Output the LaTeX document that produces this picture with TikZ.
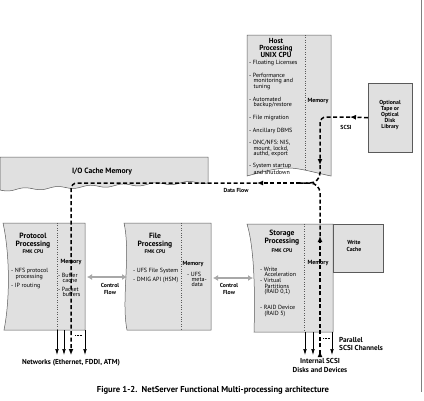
\documentclass[tikz,border=0pt]{standalone}
\usepackage{fontspec}
\setmainfont{PT Sans}
\usetikzlibrary{arrows.meta}

\definecolor{boxfill}{HTML}{E0E0E0}
\definecolor{boxline}{HTML}{5A5A5A}
\definecolor{ctrlgray}{HTML}{A8A8A8}
\newcommand{\ind}{\hspace*{4.4pt}}

\begin{document}
\begin{tikzpicture}[x=1pt,y=-1pt,
  box/.style={draw=boxline,fill=boxfill,line width=0.5pt},
  divider/.style={draw=boxline,dotted,line width=0.4pt},
  flow/.style={line width=1.5pt,dash pattern=on 4pt off 2.5pt},
  chan/.style={line width=0.6pt,-{Latex[length=6pt,width=3.6pt]}},
  ctrl/.style={draw=ctrlgray,line width=2pt,{Latex[length=5pt,width=6pt]}-{Latex[length=5pt,width=6pt]}},
  head/.style={font=\bfseries\fontsize{7.3}{7.3}\selectfont,align=center,anchor=north,inner sep=0},
  cpu/.style={font=\bfseries\fontsize{5.3}{5}\selectfont,anchor=base,inner sep=0},
  mem/.style={font=\bfseries\fontsize{6}{6}\selectfont,anchor=base,inner sep=0},
  items/.style={font=\fontsize{6}{5.2}\selectfont,align=left,anchor=north west,inner sep=0},
  lbl/.style={font=\bfseries\fontsize{5.8}{6.2}\selectfont,align=center,inner sep=0},
  big/.style={font=\bfseries\fontsize{7.2}{8.5}\selectfont,inner sep=0}
]
  \useasboundingbox (0,0) rectangle (424,400);

  % page edge
  \draw[gray,line width=0.5pt] (421,0) -- (421,392);

  % --- Host processing (UNIX CPU)
  \path[box] (247,35) -- (331,35) -- (331,176)
    .. controls (312,172) and (300,168) .. (288,168)
    .. controls (276,168) and (262,172) .. (247,176) -- cycle;
  \draw[divider] (305,35) -- (305,171);
  \node[head] (hosthead) at (276,38) {Host\\Processing\\UNIX CPU};
  \node[items] (hostitems) at (249,60) {%
    - Floating Licenses\\[6.2pt]
    - Performance\\\ind monitoring and\\\ind tuning\\[6.2pt]
    - Automated\\\ind backup/restore\\[6.2pt]
    - File migration\\[6.2pt]
    - Ancillary DBMS\\[6.2pt]
    - ONC/NFS: NIS,\\\ind mount, lockd,\\\ind authd, export\\[6.2pt]
    - System startup\\\ind and shutdown};
  \node[mem] (hostmem) at (318,102) {Memory};

  % --- optional library and write cache
  \node[box,anchor=north west,minimum width=44pt,minimum height=69pt,inner sep=0] (optlib) at (368,83) {};
  \node[lbl] (optlbl) at (390,115) {Optional\\Tape or\\Optical\\Disk\\Library};
  \node[lbl] (scsi) at (346,127) {SCSI};

  % --- I/O cache memory (torn bottom edge)
  \path[box] (0,157) -- (208,157) -- (208,182)
    -- plot[domain=208:0,samples=70,smooth] (\x,{182+8*(1-\x/208)+1.3*sin(\x*11)}) -- cycle;
  \node[big,font=\bfseries\fontsize{7.6}{8}\selectfont] (iocache) at (102,172) {I/O Cache Memory};

  % --- Protocol processing
  \path[box] (3,223) -- (85,223) -- (85,330) -- (4,330)
    .. controls (10,300) and (10,255) .. (3,223) -- cycle;
  \draw[divider] (57,223) -- (57,330);
  \node[head,font=\bfseries\fontsize{7.6}{8}\selectfont] (prothead) at (33,232.5) {Protocol\\Processing};
  \node[cpu] (protcpu) at (33,253) {FMK CPU};
  \node[items] (protitems) at (11,268) {- NFS protocol\\\ind processing\\[2pt]- IP routing};
  \node[mem] (protmem) at (71,263) {Memory};
  \node[items] (protmemitems) at (58,273) {- Buffer\\\ind cache\\[3.5pt]- Packet\\\ind buffers};

  % --- File processing
  \path[box] (124,223) -- (211,223) -- (211,330) -- (127,330)
    .. controls (121,300) and (131,255) .. (124,223) -- cycle;
  \draw[divider] (181,223) -- (181,330);
  \node[head,font=\bfseries\fontsize{7.6}{8}\selectfont] (filehead) at (155,232.5) {File\\Processing};
  \node[cpu] (filecpu) at (155,253) {FMK CPU};
  \node[items] (fileitems) at (133,268) {- UFS File System\\[2.6pt]- DMIG API (HSM)};
  \node[mem] (filemem) at (193,265) {Memory};
  \node[items] (filememitems) at (187,272) {- UFS\\\ind meta-\\\ind data};

  % --- Storage processing + write cache
  \path[box] (247,224) -- (333,224) -- (333,332) -- (254,332)
    .. controls (255,300) and (255,250) .. (247,224) -- cycle;
  \node[box,anchor=north west,minimum width=50pt,minimum height=48pt,inner sep=0] (wcache) at (333,224) {};
  \node[lbl] (wcachelbl) at (354,246) {Write\\Cache};
  \draw[divider] (304,224) -- (304,332);
  \node[head,font=\bfseries\fontsize{7.6}{8}\selectfont] (storhead) at (282,229.5) {Storage\\Processing};
  \node[cpu] (storcpu) at (282,252) {FMK CPU};
  \node[items] (storitems) at (260,267) {%
    - Write\\\ind Acceleration\\[1pt]
    - Virtual\\\ind Partitions\\\ind (RAID~0,1)\\[10pt]
    - RAID Device\\\ind (RAID 5)};

  % --- control flow between processors
  \coordinate (protE) at (87,277);
  \coordinate (fileW) at (127,277);
  \coordinate (fileE) at (213,278);
  \coordinate (storW) at (253,278);
  \draw[ctrl] (protE) -- (fileW);
  \draw[ctrl] (fileE) -- (storW);
  \node[lbl] (ctrl1) at (110,289) {Control\\Flow};
  \node[lbl] (ctrl2) at (229,289) {Control\\Flow};

  % --- data flow (dashed)
  \coordinate (jn) at (300,183);
  \coordinate (scsitip) at (350,117);
  \coordinate (hosttip) at (320,165);
  \coordinate (leftip) at (257,183);
  \coordinate (stortip) at (320,236);
  \draw[flow,-{Latex[length=6pt,width=5pt]}] (optlib.west) -- (scsitip);
  \draw[flow,rounded corners=6pt,-{Latex[length=6pt,width=5pt]}] (scsitip) -- (320,117) -- (hosttip);
  \draw[flow,rounded corners=10pt] (hosttip) -- (320,183) -- (jn);
  \draw[flow,-{Latex[length=6pt,width=5pt]}] (jn) -- (leftip);
  \draw[flow,rounded corners=6pt,-{Latex[length=6pt,width=5pt]}] (leftip) -- (71,183) -- (71,355);
  \draw[flow,{Latex[length=6pt,width=5pt,reversed]}-{Latex[length=6pt,width=5pt]}] (320,357) -- (stortip);
  \draw[flow,rounded corners=10pt] (stortip) -- (320,183) -- (jn);
  \node[lbl] (dataflow) at (236,190) {Data Flow};
  \node[mem] (stormem) at (318,264) {Memory};

  % --- channels out of the boxes
  \foreach \x in {57,64,85}
    \draw[chan] (\x,330) -- (\x,355);
  \foreach \x in {305,313,332}
    \draw[chan] (\x,332) -- (\x,355);
  \draw[densely dotted,line width=0.5pt] (75,335) -- (82,335);
  \draw[densely dotted,line width=0.5pt] (323,338) -- (330,338);

  % --- bottom labels
  \node[big,align=left,anchor=north west] (parallel) at (339,337) {Parallel\\SCSI Channels};
  \node[big,anchor=base] (networks) at (71,364) {Networks (Ethernet, FDDI, ATM)};
  \node[big,align=center,anchor=north] (internal) at (320,358.5) {Internal SCSI\\Disks and Devices};
  \node[font=\bfseries\fontsize{8.6}{9}\selectfont,anchor=base,inner sep=0] (caption) at (213,392)
    {Figure 1-2.\ \ NetServer Functional Multi-processing architecture};
\end{tikzpicture}
\end{document}
